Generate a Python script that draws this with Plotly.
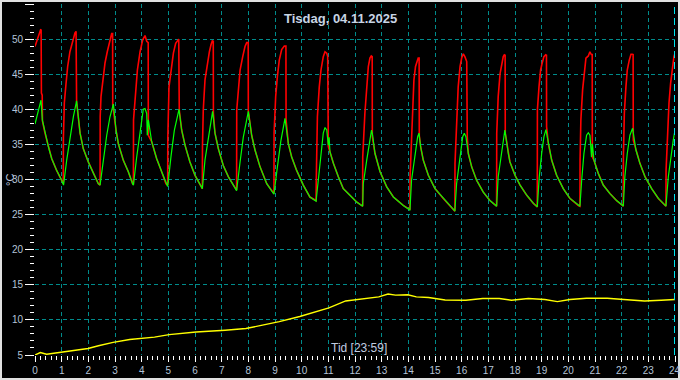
import plotly.graph_objects as go

# ---------------- data ----------------
hour_ticks = list(range(0, 25))
hour_labels = [str(h) for h in hour_ticks]
temp_ticks = [5, 10, 15, 20, 25, 30, 35, 40, 45, 50, 55]
temp_labels = [str(t) for t in temp_ticks]

red_hours = [
    0.0, 0.06, 0.15, 0.21, 0.23, 0.24, 0.27, 0.28,
    0.375, 0.5, 0.625, 0.81, 1.0, 1.06,
    1.065, 1.1, 1.16, 1.225, 1.31, 1.41, 1.5, 1.54, 1.56,
    1.69, 1.81, 2.0, 2.19, 2.375, 2.44,
    2.445, 2.475, 2.54, 2.625, 2.71, 2.81, 2.875, 2.91, 2.915,
    3.04, 3.125, 3.31, 3.5, 3.66, 3.69,
    3.695, 3.75, 3.84, 3.94, 4.04, 4.125, 4.19, 4.245, 4.25,
    4.375, 4.56, 4.75, 4.91, 4.975,
    4.98, 5.025, 5.1, 5.19, 5.275, 5.35, 5.39, 5.41,
    5.5, 5.625, 5.81, 6.0, 6.19, 6.275,
    6.28, 6.31, 6.375, 6.46, 6.54, 6.6, 6.65, 6.685, 6.69,
    6.75, 6.875, 7.06, 7.25, 7.44, 7.56,
    7.565, 7.625, 7.69, 7.79, 7.875, 7.94, 7.995, 8.0,
    8.125, 8.25, 8.44, 8.69, 8.94, 8.96,
    8.965, 9.025, 9.09, 9.16, 9.25, 9.35, 9.41, 9.415,
    9.5, 9.625, 9.81, 10.06, 10.31, 10.54,
    10.545, 10.59, 10.66, 10.725, 10.81, 10.875, 10.94, 10.975, 11.0,
    11.06, 11.19, 11.375, 11.56, 11.81, 12.06, 12.286,
    12.29, 12.37, 12.44, 12.5, 12.56, 12.61, 12.645, 12.65,
    12.75, 12.94, 13.19, 13.44, 13.81, 14.04, 14.06,
    14.065, 14.12, 14.16, 14.21, 14.27, 14.34, 14.37, 14.405, 14.41,
    14.46, 14.56, 14.75, 15.0, 15.31, 15.56, 15.745,
    15.75, 15.81, 15.87, 15.94, 16.0, 16.06, 16.12, 16.19, 16.21,
    16.25, 16.375, 16.56, 16.81, 17.06, 17.29, 17.31,
    17.315, 17.37, 17.44, 17.5, 17.56, 17.6, 17.63, 17.635,
    17.75, 17.81, 18.0, 18.19, 18.44, 18.69, 18.835,
    18.84, 18.9, 18.96, 19.02, 19.085, 19.15, 19.18, 19.185,
    19.25, 19.375, 19.56, 19.81, 20.06, 20.375, 20.435,
    20.44, 20.47, 20.535, 20.6, 20.66, 20.75, 20.81, 20.86, 20.895, 20.9,
    20.96, 21.12, 21.31, 21.56, 21.81, 22.035, 22.06,
    22.065, 22.1, 22.16, 22.21, 22.285, 22.35, 22.4, 22.43, 22.435,
    22.535, 22.685, 22.875, 23.125, 23.375, 23.625, 23.66,
    23.665, 23.71, 23.775, 23.835, 23.9, 23.96, 24.0,
]
red_temp = [
    48.95, 49.66, 50.62, 51.33, 51.3, 42.3, 42.0, 38.3,
    36.6, 34.7, 33.0, 31.3, 29.9, 29.4,
    35.9, 40.9, 43.5, 46.1, 48.2, 49.7, 50.9, 51.1, 41.1,
    36.6, 34.4, 32.5, 30.9, 29.4, 29.2,
    38.95, 41.8, 44.2, 46.6, 48.2, 50.1, 50.8, 50.8, 40.6,
    37.0, 35.1, 32.76, 31.1, 29.4, 29.3,
    38.5, 41.8, 45.6, 48.2, 49.9, 50.5, 49.7, 49.5, 36.3,
    35.4, 33.0, 31.1, 29.4, 29.2,
    35.9, 43.2, 45.6, 48.0, 49.4, 49.9, 50.0, 39.9,
    37.05, 34.9, 32.5, 30.6, 29.2, 28.7,
    34.7, 39.9, 44.2, 46.6, 48.2, 49.2, 49.76, 49.7, 39.4,
    36.6, 34.4, 32.0, 30.4, 29.2, 28.5,
    39.9, 43.2, 45.6, 47.5, 48.95, 49.5, 49.5, 39.7,
    36.3, 34.2, 31.8, 29.4, 28.0, 28.0,
    36.6, 41.8, 44.7, 47.0, 48.5, 49.0, 49.0, 38.5,
    35.1, 33.2, 31.3, 29.2, 27.5, 27.0,
    29.4, 38.95, 43.2, 45.6, 47.5, 48.2, 48.0, 47.5, 34.7,
    33.95, 32.3, 30.4, 28.7, 27.76, 26.8, 26.2,
    33.2, 39.4, 43.2, 46.1, 47.3, 47.6, 47.5, 36.1,
    33.7, 31.1, 28.95, 27.5, 26.3, 25.7, 25.7,
    30.4, 36.6, 41.3, 44.2, 46.1, 47.0, 47.3, 47.3, 36.3,
    34.7, 32.76, 30.6, 28.7, 27.3, 26.3, 25.5,
    32.3, 38.5, 43.2, 46.1, 47.3, 47.9, 47.5, 46.8, 36.1,
    33.7, 31.8, 29.9, 28.2, 27.0, 26.3, 26.2,
    36.6, 41.8, 45.1, 46.6, 47.5, 47.76, 47.7, 36.6,
    33.7, 32.5, 30.6, 29.2, 27.76, 26.6, 26.1,
    39.9, 43.2, 45.6, 46.6, 47.5, 47.76, 47.7, 37.5,
    35.1, 32.76, 30.6, 28.7, 27.3, 26.3, 26.2,
    32.76, 38.5, 42.76, 45.6, 47.3, 47.6, 48.2, 47.8, 47.8, 33.2,
    32.76, 30.9, 29.2, 28.0, 27.0, 26.3, 26.2,
    33.2, 39.4, 43.2, 45.6, 47.0, 47.85, 47.85, 47.8, 35.6,
    34.2, 32.3, 30.4, 28.7, 27.3, 26.3, 26.2,
    31.3, 36.1, 40.9, 43.7, 45.9, 47.5, 48.0,
]

green_hours = [
    0.0, 0.1, 0.225, 0.275,
    0.375, 0.5, 0.625, 0.81, 1.0, 1.07,
    1.19, 1.31, 1.44, 1.56,
    1.69, 1.81, 2.0, 2.19, 2.375, 2.44,
    2.55, 2.69, 2.81, 2.94,
    3.04, 3.125, 3.31, 3.5, 3.66, 3.69,
    3.81, 3.94, 4.06, 4.125, 4.19, 4.21, 4.25,
    4.375, 4.56, 4.75, 4.91, 4.975,
    5.1, 5.225, 5.4,
    5.5, 5.625, 5.81, 6.0, 6.19, 6.275,
    6.375, 6.5, 6.625, 6.66,
    6.75, 6.875, 7.06, 7.25, 7.44, 7.56,
    7.69, 7.81, 8.0,
    8.125, 8.25, 8.44, 8.69, 8.94, 8.96,
    9.09, 9.22, 9.375,
    9.5, 9.625, 9.81, 10.06, 10.31, 10.54,
    10.69, 10.81, 10.875, 10.94, 11.0, 11.03,
    11.06, 11.19, 11.375, 11.56, 11.81, 12.06, 12.286,
    12.31, 12.44, 12.54, 12.62, 12.66,
    12.75, 12.94, 13.19, 13.44, 13.81, 14.04, 14.06,
    14.12, 14.25, 14.35, 14.4,
    14.46, 14.56, 14.75, 15.0, 15.31, 15.56, 15.745,
    15.81, 15.94, 16.04, 16.1, 16.16,
    16.25, 16.375, 16.56, 16.81, 17.06, 17.29, 17.31,
    17.37, 17.5, 17.62,
    17.75, 17.81, 18.0, 18.19, 18.44, 18.69, 18.835,
    18.91, 19.0, 19.085, 19.16,
    19.25, 19.375, 19.56, 19.81, 20.06, 20.375, 20.435,
    20.5, 20.585, 20.685, 20.75, 20.81, 20.87, 20.9,
    20.96, 21.12, 21.31, 21.56, 21.81, 22.035, 22.06,
    22.12, 22.21, 22.31, 22.41,
    22.535, 22.685, 22.875, 23.125, 23.375, 23.625, 23.66,
    23.75, 23.835, 23.935, 24.0,
]
green_temp = [
    37.9, 39.3, 41.3, 38.5,
    36.6, 34.7, 33.0, 31.3, 29.9, 29.2,
    32.8, 36.1, 38.95, 41.2,
    36.6, 34.4, 32.5, 30.9, 29.4, 29.2,
    32.5, 36.3, 38.9, 40.76,
    37.0, 35.1, 32.76, 31.1, 29.4, 29.2,
    33.1, 36.9, 40.0, 40.1, 39.4, 36.3, 38.5,
    35.4, 33.0, 31.1, 29.4, 29.0,
    33.3, 37.0, 40.0,
    37.05, 34.9, 32.5, 30.6, 29.2, 28.7,
    32.8, 36.1, 38.95, 39.7,
    36.6, 34.4, 32.0, 30.4, 29.2, 28.4,
    32.5, 36.0, 39.7,
    36.3, 34.2, 31.8, 29.4, 28.0, 27.9,
    31.8, 35.5, 38.7,
    35.1, 33.2, 31.3, 29.2, 27.5, 26.9,
    32.76, 36.6, 37.4, 37.05, 34.9, 36.0,
    33.95, 32.3, 30.4, 28.7, 27.76, 26.8, 26.2,
    29.4, 32.76, 35.1, 37.05, 36.3,
    33.7, 31.1, 28.95, 27.5, 26.3, 25.7, 25.6,
    29.9, 33.2, 36.1, 36.6,
    34.7, 32.76, 30.6, 28.7, 27.3, 26.3, 25.5,
    29.4, 33.7, 36.1, 36.6, 36.1,
    33.7, 31.8, 29.9, 28.2, 27.0, 26.3, 26.2,
    30.4, 33.7, 37.05,
    33.7, 32.5, 30.6, 29.2, 27.76, 26.6, 26.1,
    30.4, 33.7, 36.1, 37.1,
    35.1, 32.76, 30.6, 28.7, 27.3, 26.3, 26.2,
    29.9, 33.7, 36.3, 36.66, 36.3, 33.2, 35.1,
    32.76, 30.9, 29.2, 28.0, 27.0, 26.3, 26.2,
    30.4, 33.7, 36.3, 37.3,
    34.2, 32.3, 30.4, 28.7, 27.3, 26.3, 26.2,
    30.4, 33.2, 35.6, 37.05,
]

outdoor_hours = [0.0, 0.2, 0.435, 0.9, 1.525, 1.99, 2.38, 2.93, 3.55, 4.48,
                 5.03, 6.04, 7.13, 7.91, 8.53, 9.16, 9.93, 10.4, 11.02, 11.65,
                 12.27, 12.89, 13.24, 13.52, 13.98, 14.3, 14.76, 15.38, 16.16, 16.79,
                 17.41, 17.87, 18.5, 19.12, 19.59, 20.06, 20.68, 21.46, 22.08, 22.86,
                 23.48, 24.0]
outdoor_temp = [5.0, 5.34, 5.1, 5.34, 5.6, 5.93, 6.32, 6.8, 7.2, 7.55,
                7.9, 8.28, 8.53, 8.77, 9.26, 9.75, 10.49, 10.98, 11.72, 12.7,
                12.94, 13.28, 13.68, 13.53, 13.58, 13.28, 13.19, 12.84, 12.8, 13.04,
                13.04, 12.8, 13.04, 12.9, 12.6, 12.9, 13.09, 13.09, 12.9, 12.7,
                12.8, 12.9]

title_text = "Tisdag, 04.11.2025"
x_title = "Tid [23:59]"
y_title = "°C"

assert len(red_hours) == len(red_temp)
assert len(green_hours) == len(green_temp)
assert len(outdoor_hours) == len(outdoor_temp)

# ---------------- figure ----------------
W, H = 680, 380
ML, MR, MT, MB = 35, 5, 4, 25
PW, PH = W - ML - MR, H - MT - MB

LABEL = "#b4c4d8"
GRID = "#008b8b"

fig = go.Figure()
fig.add_trace(go.Scatter(x=red_hours, y=red_temp, mode="lines",
                         line=dict(color="#ff0000", width=1.6), hoverinfo="skip"))
fig.add_trace(go.Scatter(x=green_hours, y=green_temp, mode="lines",
                         line=dict(color="#00ff00", width=1.2), hoverinfo="skip"))
fig.add_trace(go.Scatter(x=outdoor_hours, y=outdoor_temp, mode="lines",
                         line=dict(color="#ffff00", width=1.4), hoverinfo="skip"))

fig.update_layout(
    width=W, height=H,
    margin=dict(l=ML, r=MR, t=MT, b=MB, pad=0, autoexpand=False),
    paper_bgcolor="#000000", plot_bgcolor="#000000",
    showlegend=False,
    font=dict(family="Arial, Liberation Sans, sans-serif", size=10, color=LABEL),
    xaxis=dict(
        range=[0, 24], tickmode="array", tickvals=hour_ticks, ticktext=hour_labels,
        showgrid=True, gridcolor=GRID, griddash="4px,3px", gridwidth=1,
        zeroline=False, showline=False, automargin=False,
        ticks="outside", ticklen=6, tickcolor="#ffffff", tickwidth=1,
        tickfont=dict(size=10, color=LABEL),
        minor=dict(dtick=0.2, tick0=0, ticks="outside", ticklen=4,
                   tickcolor="#ffffff", tickwidth=1, showgrid=False),
        fixedrange=True,
    ),
    yaxis=dict(
        range=[5, 55], tickmode="array", tickvals=temp_ticks, ticktext=temp_labels,
        showgrid=True, gridcolor=GRID, griddash="4px,3px", gridwidth=1,
        zeroline=False, showline=False, automargin=False,
        ticks="outside", ticklen=9, tickcolor="#ffffff", tickwidth=1,
        tickfont=dict(size=10, color=LABEL),
        minor=dict(dtick=1, tick0=5, ticks="outside", ticklen=4,
                   tickcolor="#ffffff", tickwidth=1, showgrid=False),
        fixedrange=True,
    ),
)

# hide the grid lines that fall on the plot edges (reference has none there)
fig.add_shape(type="line", xref="x", yref="paper", x0=0, x1=0, y0=0, y1=1,
              layer="between", line=dict(color="#000000", width=3))
fig.add_shape(type="line", xref="paper", yref="y", x0=0, x1=1, y0=5, y1=5,
              layer="between", line=dict(color="#000000", width=3))
fig.add_shape(type="line", xref="paper", yref="y", x0=0, x1=1, y0=55, y1=55,
              layer="between", line=dict(color="#000000", width=3))

# bright cursor line at the right end
fig.add_shape(type="line", xref="x", yref="paper", x0=24, x1=24, y0=0, y1=1,
              line=dict(color="#00e5ee", width=2, dash="7px,4px"))

# outer frame
fig.add_shape(type="rect", xref="paper", yref="paper",
              x0=-(ML - 1) / PW, x1=1 + (MR - 1) / PW,
              y0=-(MB - 1) / PH, y1=1 + (MT - 1) / PH,
              line=dict(color="#e0e0e0", width=2), fillcolor="rgba(0,0,0,0)")

# last hour label (cut by the frame in the reference)
fig.add_annotation(text=hour_labels[-1], xref="x", yref="paper",
                   x=hour_ticks[-1], y=-(370 - (H - MB)) / PH,
                   xanchor="center", yanchor="middle", showarrow=False,
                   font=dict(size=10, color=LABEL))

# title
fig.add_annotation(text=title_text, xref="paper", yref="paper",
                   x=(W / 2 - ML) / PW, y=1 - (18 - MT) / PH,
                   xanchor="center", yanchor="middle", showarrow=False,
                   font=dict(size=13, color="#c8d4e4",
                             family="Arial, Liberation Sans, sans-serif", weight="bold"))
# x-axis title (inside bottom)
fig.add_annotation(text=x_title, xref="paper", yref="paper",
                   x=(359 - ML) / PW, y=(H - MB - 348) / PH,
                   xanchor="center", yanchor="middle", showarrow=False,
                   font=dict(size=12, color="#c0cce0"))
# y-axis title
fig.add_annotation(text=y_title, xref="paper", yref="paper",
                   x=(10 - ML) / PW, y=(H - MB - 180) / PH,
                   xanchor="center", yanchor="middle", showarrow=False, textangle=-90,
                   font=dict(size=11, color="#c0cce0"))

fig.write_html(
    "out.html",
    config={"displayModeBar": False},
    post_script="document.body.style.margin='0';document.body.style.overflow='hidden';",
)
